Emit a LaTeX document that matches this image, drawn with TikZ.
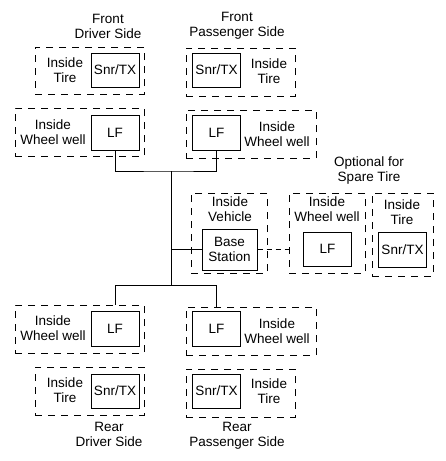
\documentclass[tikz,border=0pt]{standalone}
\usepackage{fontspec}
\setmainfont{Liberation Sans}
\begin{document}
\begin{tikzpicture}[x=1pt, y=-1pt, font=\fontsize{13.5}{15}\selectfont,
        unit/.style = {draw, line width=1pt, minimum width=48, minimum height=34, inner sep=0pt, align=center},
        zone/.style = {draw, line width=0.9pt, dash pattern=on 7pt off 6pt, inner sep=0pt},
        lbl/.style = {align=center, inner sep=0pt},
        wire/.style = {line width=1pt}]
        \useasboundingbox (0,0) rectangle (445,461);

        \node[lbl] (fdtitle) at (108,26) {Front\\Driver Side};
        \node[zone, minimum width=109, minimum height=47] (fdtz) at (89.5,70.5) {};
        \node[unit] (fdsnr) at (115,70) {Snr/TX};
        \node[lbl] (fdtl) at (65,70) {Inside\\Tire};
        \node[zone, minimum width=129, minimum height=48] (fdwz) at (79.5,132) {};
        \node[unit, minimum height=35] (fdlf) at (115,132.5) {LF};
        \node[lbl] (fdwl) at (53,132.5) {Inside\\Wheel well};

        \node[lbl] (fptitle) at (237,26) {Front\\Passenger Side};
        \node[zone, minimum width=109, minimum height=48] (fptz) at (240.5,72) {};
        \node[unit] (fpsnr) at (216.5,70) {Snr/TX};
        \node[lbl] (fptl) at (269,71) {Inside\\Tire};
        \node[zone, minimum width=130, minimum height=48] (fpwz) at (251,134) {};
        \node[unit, minimum height=35] (fplf) at (216.5,132.5) {LF};
        \node[lbl] (fpwl) at (277,134) {Inside\\Wheel well};

        \node[zone, minimum width=76, minimum height=80] (vz) at (229,233) {};
        \node[lbl] (vl) at (230,209.5) {Inside\\Vehicle};
        \node[unit, minimum width=55, minimum height=41] (base) at (229.5,249.5) {Base\\Station};

        \node[lbl] (optitle) at (369,170.5) {Optional for\\Spare Tire};
        \node[zone, minimum width=76, minimum height=80] (swz) at (327,233) {};
        \node[lbl] (swl) at (327,209.5) {Inside\\Wheel well};
        \node[unit] (swlf) at (327.5,249) {LF};
        \node[zone, minimum width=61, minimum height=83] (stz) at (402.5,234.5) {};
        \node[lbl] (stl) at (402,212.5) {Inside\\Tire};
        \node[unit, minimum height=35] (stsnr) at (402.5,249.5) {Snr/TX};

        \node[zone, minimum width=129, minimum height=48] (rdwz) at (79.5,329) {};
        \node[unit, minimum height=35] (rdlf) at (115,328.5) {LF};
        \node[lbl] (rdwl) at (53,328.5) {Inside\\Wheel well};
        \node[zone, minimum width=109, minimum height=48] (rdtz) at (89.5,391) {};
        \node[unit] (rdsnr) at (115,391) {Snr/TX};
        \node[lbl] (rdtl) at (65,390) {Inside\\Tire};
        \node[lbl] (rdtitle) at (109,434.5) {Rear\\Driver Side};

        \node[zone, minimum width=130, minimum height=48] (rpwz) at (251,331) {};
        \node[unit, minimum height=35] (rplf) at (216.5,328.5) {LF};
        \node[lbl] (rpwl) at (277,331) {Inside\\Wheel well};
        \node[zone, minimum width=109, minimum height=48] (rptz) at (240.5,393) {};
        \node[unit] (rpsnr) at (216.5,391) {Snr/TX};
        \node[lbl] (rptl) at (269,391) {Inside\\Tire};
        \node[lbl] (rptitle) at (237,436) {Rear\\Passenger Side};

        \coordinate (bustop) at (171,171);
        \coordinate (busbot) at (171,285);

        \draw[wire] (fdlf.south) |- (bustop) -| (fplf.south);
        \draw[wire] (bustop) -- (busbot);
        \draw[wire] (busbot) -| (rdwz.north -| rdlf.north);
        \draw[wire] (busbot) -| (rpwz.north -| rplf.north);
        \draw[wire] (bustop |- base.west) -- (base.west);
        \draw[wire, dash pattern=on 5pt off 4pt] (base.east) -- (swz.west |- base.east);
    \end{tikzpicture}
\end{document}
